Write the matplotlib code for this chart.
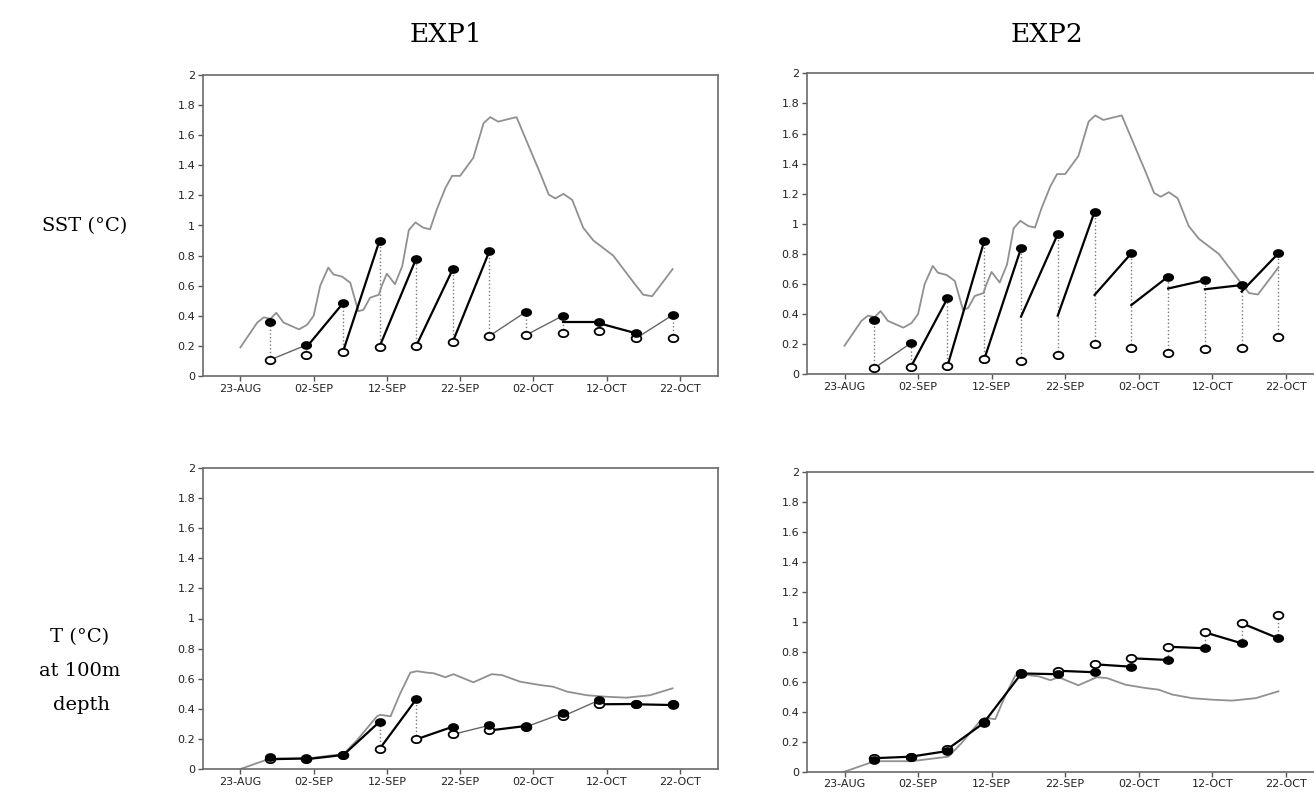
import numpy as np
import matplotlib.pyplot as plt
from matplotlib.path import Path

# days counted from 23-AUG
tick_days = [0, 10, 20, 30, 40, 50, 60]
tick_labels = ["23-AUG", "02-SEP", "12-SEP", "22-SEP", "02-OCT", "12-OCT", "22-OCT"]
cycle_days = [4, 9, 14, 19, 24, 29, 34, 39, 44, 49, 54, 59]

# reference (gray) curves
sst_days = [0, 1.4, 2.3, 3.2, 4.1, 4.9, 5.9, 8, 9.1, 10, 10.9, 12, 12.7, 13.9, 15, 16.1,
            16.8, 17.7, 18.9, 19.3, 20, 21.1, 22.1, 23, 23.9, 25, 25.9, 26.8, 28, 28.9,
            30, 31.8, 33.2, 34.1, 35.2, 36.4, 37.7, 39.6, 40.9, 42.1, 43, 44.1, 45.3,
            46.8, 48.2, 50.9, 53.7, 55, 56.2, 57.3, 59]
sst_ref = [0.19, 0.29, 0.355, 0.39, 0.38, 0.42, 0.355, 0.31, 0.34, 0.40, 0.60, 0.72,
           0.675, 0.66, 0.62, 0.43, 0.44, 0.52, 0.54, 0.60, 0.68, 0.61, 0.73, 0.97, 1.02,
           0.985, 0.975, 1.105, 1.25, 1.33, 1.33, 1.45, 1.68, 1.72, 1.69, 1.705, 1.72,
           1.50, 1.35, 1.205, 1.18, 1.21, 1.17, 0.985, 0.90, 0.80, 0.62, 0.54, 0.53,
           0.60, 0.71]
t100_days = [0, 4.1, 9.1, 14.1, 15.9, 18.65, 19.1, 20.5, 21.8, 23.2, 24.1, 25.5, 26.4,
             28, 29.1, 31.8, 34.3, 35.7, 38.2, 40.9, 42.7, 44.6, 47.3, 50, 52.7, 55.9, 59]
t100_ref = [0, 0.07, 0.07, 0.1, 0.19, 0.35, 0.36, 0.35, 0.50, 0.64, 0.65, 0.64, 0.636,
            0.61, 0.63, 0.576, 0.63, 0.624, 0.58, 0.558, 0.547, 0.514, 0.49, 0.48,
            0.474, 0.49, 0.536]

# EXP1 SST
e1_sst_filled = [0.36, 0.206, 0.483, 0.90, 0.78, 0.71, 0.83, 0.427, 0.40, 0.36, 0.284, 0.405]
e1_sst_open = [0.106, 0.14, 0.16, 0.195, 0.20, 0.228, 0.266, 0.272, 0.284, 0.30, 0.25, 0.25]
e1_sst_start = [0.106, 0.19, 0.16, 0.195, 0.20, 0.228, 0.266, 0.272, 0.36, 0.35, 0.25]

# EXP2 SST
e2_sst_filled = [0.36, 0.206, 0.505, 0.886, 0.837, 0.932, 1.08, 0.804, 0.649, 0.625, 0.593, 0.804]
e2_sst_open = [0.04, 0.047, 0.055, 0.10, 0.088, 0.128, 0.20, 0.173, 0.14, 0.168, 0.173, 0.246]
e2_sst_start = [0.04, 0.047, 0.055, 0.10, 0.383, 0.39, 0.527, 0.46, 0.57, 0.565, 0.55]

# EXP1 T at 100 m
e1_t_filled = [0.078, 0.07, 0.093, 0.314, 0.463, 0.281, 0.29, 0.286, 0.37, 0.458, 0.432, 0.425]
e1_t_open = [0.065, 0.065, 0.09, 0.133, 0.197, 0.23, 0.256, 0.28, 0.35, 0.43, 0.43, 0.43]
e1_t_start = e1_t_open[:-1]

# EXP2 T at 100 m
e2_t_filled = [0.078, 0.10, 0.138, 0.327, 0.651, 0.65, 0.663, 0.70, 0.745, 0.823, 0.856, 0.889]
e2_t_open = [0.09, 0.10, 0.15, 0.33, 0.655, 0.673, 0.716, 0.756, 0.833, 0.929, 0.99, 1.045]
e2_t_start = e2_t_open[:-1]

# which forecast segments are drawn heavy
e1_sst_heavy = [0, 1, 1, 1, 1, 1, 0, 0, 1, 1, 0]
e2_sst_heavy = [0, 1, 1, 1, 1, 1, 1, 1, 1, 1, 1]
e1_t_heavy = [1, 1, 1, 1, 1, 0, 1, 0, 0, 1, 1]
e2_t_heavy = [1] * 11

W, H = 1314, 792
fig = plt.figure(figsize=(W / 100, H / 100), dpi=100)

# slightly flattened circle, like the scanned markers
_a = np.linspace(0, 2 * np.pi, 41)
oval = Path(np.column_stack([np.cos(_a), 0.75 * np.sin(_a)]), closed=True)


def rect(left, right, top, bottom):
    return [left / W, 1 - bottom / H, (right - left) / W, (bottom - top) / H]


def panel(r, ref_x, ref_y, filled, opened, start, heavy):
    ax = fig.add_axes(r)
    ax.plot(ref_x, ref_y, color="#909090", lw=1.3, zorder=2)
    for d, o, f in zip(cycle_days, opened, filled):
        ax.plot([d, d], [o, f], color="#7a7a7a", lw=1.0, ls=":", zorder=1)
    for i in range(1, len(cycle_days)):
        if heavy[i - 1]:
            kw = dict(color="black", lw=1.6)
        else:
            kw = dict(color="#666666", lw=1.0)
        ax.plot([cycle_days[i - 1], cycle_days[i]], [start[i - 1], filled[i]], zorder=3, **kw)
    ax.plot(cycle_days, opened, marker=oval, ls="none", mfc="white", mec="black",
            ms=7, mew=1.3, zorder=5)
    ax.plot(cycle_days, filled, marker=oval, ls="none", color="black", ms=7, zorder=6)

    ax.set_xlim(-5.1, 65.2)
    ax.set_ylim(0, 2)
    ax.set_xticks(tick_days)
    ax.set_xticklabels(tick_labels)
    yt = np.round(np.arange(0, 2.01, 0.2), 1)
    ax.set_yticks(yt)
    ax.set_yticklabels([f"{v:g}" for v in yt])
    ax.tick_params(direction="out", length=3.6, width=1, color="#555555",
                   labelsize=8, pad=2, labelcolor="#222222")
    for s in ax.spines.values():
        s.set_color("#6a6a6a")
        s.set_linewidth(1.2)
    return ax


panel(rect(203, 718, 75, 376), sst_days, sst_ref,
      e1_sst_filled, e1_sst_open, e1_sst_start, e1_sst_heavy)
panel(rect(807, 1324, 73.3, 374.3), sst_days, sst_ref,
      e2_sst_filled, e2_sst_open, e2_sst_start, e2_sst_heavy)
panel(rect(203, 718, 468, 769), t100_days, t100_ref,
      e1_t_filled, e1_t_open, e1_t_start, e1_t_heavy)
panel(rect(807, 1324, 471.7, 771.7), t100_days, t100_ref,
      e2_t_filled, e2_t_open, e2_t_start, e2_t_heavy)

serif = "DejaVu Serif"
fig.text(446 / W, 1 - 35 / H, "EXP1", ha="center", va="center", family=serif, size=19)
fig.text(1047 / W, 1 - 35 / H, "EXP2", ha="center", va="center", family=serif, size=19)
fig.text(85 / W, 1 - 226 / H, "SST (°C)", ha="center", va="center", family=serif, size=14)
fig.text(80 / W, 1 - 637 / H, "T (°C)", ha="center", va="center", family=serif, size=14)
fig.text(80 / W, 1 - 671 / H, "at 100m", ha="center", va="center", family=serif, size=14)
fig.text(82 / W, 1 - 705 / H, "depth", ha="center", va="center", family=serif, size=14)

fig.savefig("out.png", dpi=100)
